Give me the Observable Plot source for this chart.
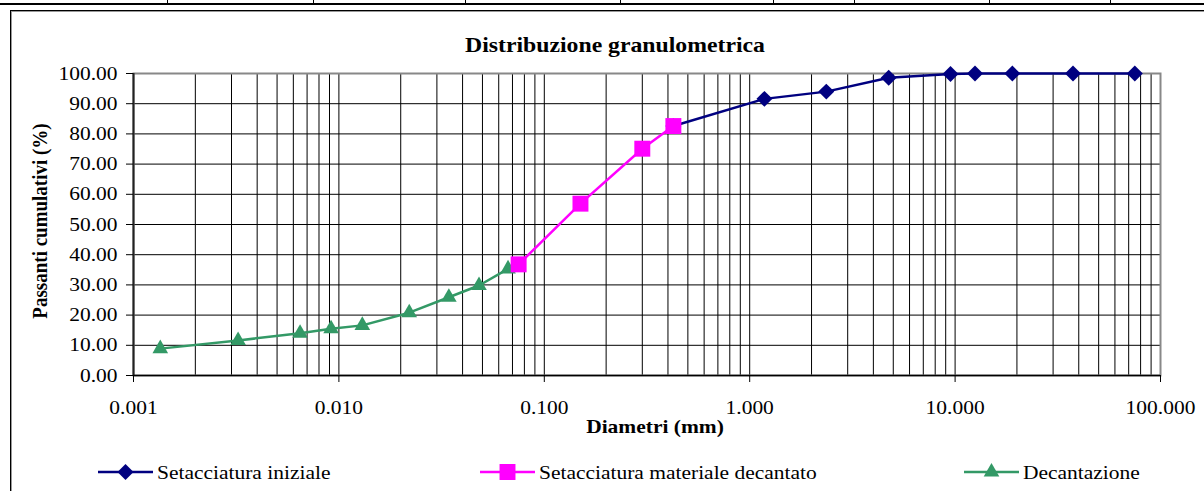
<!DOCTYPE html>
<html><head><meta charset="utf-8">
<script src="https://cdn.jsdelivr.net/npm/d3@7"></script>
<script src="https://cdn.jsdelivr.net/npm/@observablehq/plot@0.6"></script>
<style>
body{margin:0;background:#fff;font-family:"Liberation Serif","Times New Roman",serif;}
#wrap{position:relative;width:1204px;height:491px;overflow:hidden;background:#fff;}
.ln{position:absolute;background:#000;}
.t{position:absolute;white-space:nowrap;color:#000;line-height:1;}
#plot{position:absolute;left:0;top:0;}
</style></head><body><div id="wrap"><div id="plot"></div></div>
<script>
// ---- data ----
const xTicks = [0.001, 0.01, 0.1, 1, 10, 100];
const xTickLabels = ["0.001", "0.010", "0.100", "1.000", "10.000", "100.000"];
const yTicks = [0, 10, 20, 30, 40, 50, 60, 70, 80, 90, 100];
const yTickLabels = ["0.00", "10.00", "20.00", "30.00", "40.00", "50.00", "60.00", "70.00", "80.00", "90.00", "100.00"];

const iniDiam = [0.425, 1.18, 2.36, 4.75, 9.5, 12.5, 19, 37.5, 75];
const iniPass = [82.6, 91.6, 94.0, 98.6, 99.8, 100, 100, 100, 100];
const decSetDiam = [0.075, 0.15, 0.3, 0.425];
const decSetPass = [36.8, 56.9, 75.1, 82.6];
const decDiam = [0.00135, 0.00323, 0.00647, 0.00916, 0.0130, 0.0220, 0.0343, 0.0481, 0.0666];
const decPass = [8.9, 11.6, 14.0, 15.5, 16.6, 20.8, 25.9, 29.8, 35.3];

const seriesNames = ["Setacciatura iniziale", "Setacciatura materiale decantato", "Decantazione"];
const seriesColors = ["#000080", "#FF00FF", "#339966"];
const seriesSymbols = ["diamond2", "square", "triangle"];

const titleText = "Distribuzione granulometrica";
const xTitle = "Diametri (mm)";
const yTitle = "Passanti cumulativi (%)";

// ---- build ----
const FONT = "'Liberation Serif','Times New Roman',serif";
const SX = 1.13;
const rows = (d, p) => d.map((x, i) => ({x, y: p[i]}));
const seriesData = [rows(iniDiam, iniPass), rows(decSetDiam, decSetPass), rows(decDiam, decPass)];
const symR = [7.2, 9.0, 5.8];

const gridX = [];
for (let k = -3; k <= 1; k++) for (let m = 1; m <= 9; m++) gridX.push(+(m * Math.pow(10, k)).toPrecision(3));
gridX.push(100);

const drawOrder = [0, 2, 1];
const seriesMarks = drawOrder.flatMap(i => [
  Plot.line(seriesData[i], {x: "x", y: "y", stroke: seriesColors[i], strokeWidth: 2.5}),
  Plot.dot(seriesData[i], {x: "x", y: "y", symbol: seriesSymbols[i], r: symR[i], fill: seriesColors[i], stroke: "none"})
]);

const chart = Plot.plot({
  width: 1204, height: 491,
  marginTop: 73, marginBottom: 116, marginLeft: 133, marginRight: 44,
  style: {background: "transparent", fontFamily: FONT, fontSize: "19px", color: "#000", overflow: "visible"},
  x: {type: "log", domain: [0.001, 100]},
  y: {domain: [0, 100]},
  marks: [
    Plot.ruleX(gridX, {stroke: "#000", strokeWidth: 1}),
    Plot.ruleY(yTicks, {stroke: "#000", strokeWidth: 1}),
    Plot.frame({stroke: "#888", strokeWidth: 2}),
    Plot.ruleX([0.001], {stroke: "#222", strokeWidth: 2}),
    Plot.ruleY([0], {stroke: "#000", strokeWidth: 1.5}),
    Plot.axisX(xTicks, {tickSize: 7, tickPadding: 18, tickFormat: d => xTickLabels[xTicks.indexOf(d)], label: null, fontSize: 19, fontFamily: FONT}),
    Plot.axisY(yTicks, {tickSize: 7, tickPadding: 9, tickFormat: d => yTickLabels[yTicks.indexOf(d)], label: null, fontSize: 19, fontFamily: FONT}),
    ...seriesMarks
  ]
});
document.getElementById("plot").appendChild(chart);

// stretch svg tick labels horizontally (reference is horizontally stretched)
chart.querySelectorAll("text").forEach(t => {
  const g = document.createElementNS("http://www.w3.org/2000/svg", "g");
  t.parentNode.insertBefore(g, t);
  g.appendChild(t);
  const bb = g.getBBox();
  const anchor = getComputedStyle(t).textAnchor;
  const ax = anchor === "end" ? bb.x + bb.width : anchor === "middle" ? bb.x + bb.width / 2 : bb.x;
  g.setAttribute("transform", `translate(${ax},0) scale(${SX},1) translate(${-ax},0)`);
});

const wrap = document.getElementById("wrap");
function add(html) { wrap.insertAdjacentHTML("beforeend", html); }

// document table strip and chart box
add(`<div class="ln" style="left:0;top:3px;width:1204px;height:2px"></div>`);
[167, 313, 465, 620, 773, 854, 989, 1110].forEach(x => add(`<div class="ln" style="left:${x}px;top:0;width:1px;height:4px"></div>`));
add(`<div style="position:absolute;left:10px;top:10px;width:1300px;height:600px;border-left:1px solid #000;border-top:1px solid #000;box-shadow:inset 1px 1px 0 #999"></div>`);

// titles
add(`<div class="t" style="left:615px;top:44.5px;font-weight:bold;font-size:21px;transform:translate(-50%,-50%) scaleX(${SX})">${titleText}</div>`);
add(`<div class="t" style="left:655px;top:426px;font-weight:bold;font-size:19px;transform:translate(-50%,-50%) scaleX(${SX})">${xTitle}</div>`);
add(`<div class="t" style="left:40px;top:221px;font-weight:bold;font-size:19px;transform:translate(-50%,-50%) rotate(-90deg) scaleY(${SX})">${yTitle}</div>`);

// legend
const legLine = [98, 480, 964];
const legY = 471.5;
seriesNames.forEach((name, i) => {
  const svg = d3.create("svg").attr("width", 56).attr("height", 24)
    .style("position", "absolute").style("left", legLine[i] + "px").style("top", (legY - 12) + "px").style("overflow", "visible");
  svg.append("line").attr("x1", 0).attr("x2", 55).attr("y1", 12).attr("y2", 12).attr("stroke", seriesColors[i]).attr("stroke-width", 2.5);
  const sym = {diamond2: d3.symbolDiamond2, square: d3.symbolSquare, triangle: d3.symbolTriangle}[seriesSymbols[i]];
  svg.append("path").attr("transform", "translate(27.5,12)").attr("d", d3.symbol(sym, Math.PI * symR[i] * symR[i])()).attr("fill", seriesColors[i]);
  wrap.appendChild(svg.node());
  add(`<div class="t" style="left:${legLine[i] + 59}px;top:${legY}px;font-size:19px;transform-origin:0 50%;transform:translateY(-50%) scaleX(${SX})">${name}</div>`);
});
</script></body></html>
